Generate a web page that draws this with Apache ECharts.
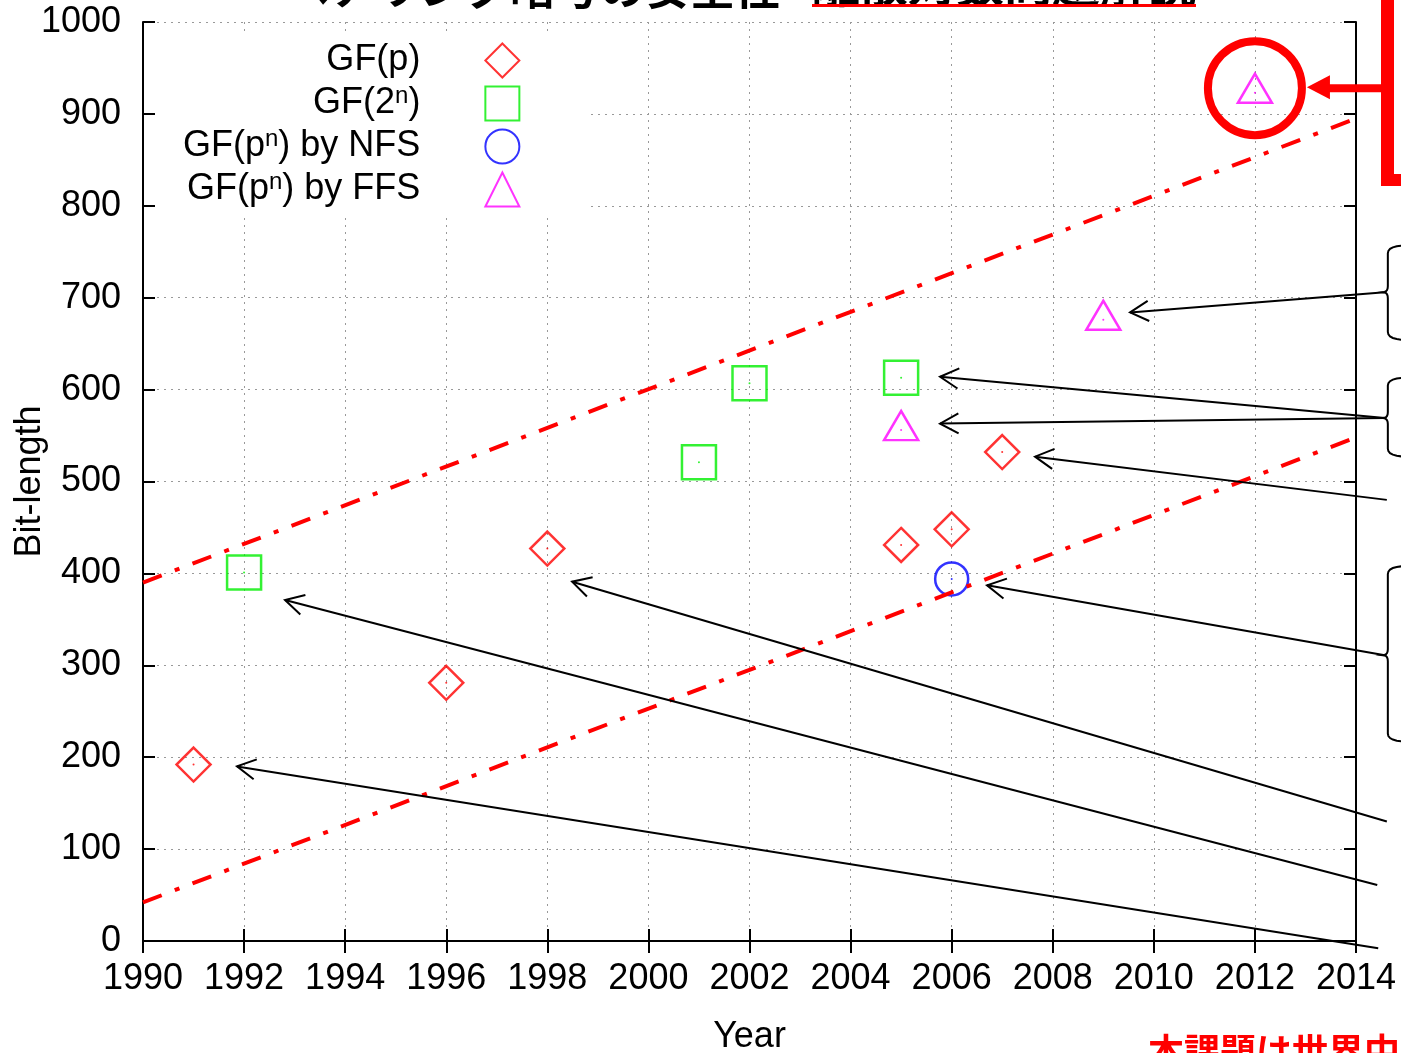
<!DOCTYPE html>
<html><head><meta charset="utf-8">
<script src="https://cdn.jsdelivr.net/npm/echarts@6/dist/echarts.min.js"></script>
<style>html,body{margin:0;padding:0;background:#fff;overflow:hidden}#c{width:1401px;height:1053px}</style>
</head><body><div id="c"></div>
<script>
// ---- data ----
const seriesNames = ['GF(p)', 'GF(2^n)', 'GF(p^n) by NFS', 'GF(p^n) by FFS'];
const gfpYears = [1991, 1996, 1998, 2005, 2006, 2007];
const gfpBits  = [192, 281, 427, 431, 448, 532];
const gf2Years = [1992, 2001, 2002, 2005];
const gf2Bits  = [401, 521, 607, 613];
const nfsYears = [2006];
const nfsBits  = [394];
const ffsYears = [2005, 2009, 2012];
const ffsBits  = [556, 676, 923];
const trendYears = [1990, 2014];
const upperTrend = [390, 895];
const lowerTrend = [42, 548];
// annotation arrows in data space: [year, bits]
const arrowFrom = [[2014.57,706],[2014.57,569],[2014.57,569],[2014.61,480],[2014.57,311],[2014.61,130],[2014.42,61],[2014.44,-8]];
const arrowTo   = [[2009.53,684],[2005.77,614],[2005.77,563],[2007.65,527],[2006.70,387],[1998.49,391],[1992.81,371],[1991.86,190]];
// braces: [top, bottom, tip] in bits
const braces = [[757,654,706],[613,527,569],[408,217,311]];
const highlight = [2012, 928];

const FONT = '"Liberation Sans", Arial, Helvetica, sans-serif';
const CJK = '"Noto Sans CJK JP", sans-serif';
const pts = (xs, ys) => xs.map((x, i) => [x, ys[i]]);
const hollow = c => ({ color: 'none', borderColor: c, borderWidth: 2.5 });
const colors = ['#ff0000', '#00ee00', '#0000ff', '#ff00ff'];

const chart = echarts.init(document.getElementById('c'));

const axisLineStyle = { color: '#000', width: 2 };
const tickStyle = { inside: true, length: 12, lineStyle: { color: '#000', width: 2 } };
const gridStyle = { show: true, lineStyle: { color: '#999', type: [2, 5], width: 1 } };
const lbl = { fontSize: 36, color: '#000', fontFamily: FONT };

function legendFmt(name) {
  const p = name.split('^n');
  return p.length > 1 ? '{a|' + p[0] + '}{s|n}{a|' + p[1] + '}' : '{a|' + name + '}';
}

const scatterBase = (name, data, symbol, size, color, offset) => ({
  name, type: 'scatter', data, symbol, symbolSize: size, symbolOffset: offset || [0, 0],
  itemStyle: hollow(color), z: 3, silent: true, emphasis: { disabled: true }
});
const dotSeries = (data, color) => ({
  name: 'dot', type: 'scatter', data, symbol: 'circle', symbolSize: 2,
  itemStyle: { color }, z: 3, silent: true
});
const trend = (ys) => ({
  name: 'trend', type: 'line', data: pts(trendYears, ys), symbol: 'none',
  lineStyle: { color: '#ff0000', width: 4, type: [20, 14, 5, 14] }, z: 5, silent: true
});

chart.setOption({
  animation: false,
  backgroundColor: '#fff',
  grid: { left: 143, top: 22, right: 45, bottom: 112, containLabel: false, outerBoundsMode: 'none' },
  xAxis: [
    { type: 'value', min: 1990, max: 2014, interval: 2, position: 'bottom',
      name: 'Year', nameLocation: 'middle', nameGap: 78, nameMoveOverlap: false, nameTextStyle: Object.assign({}, lbl),
      axisLine: { lineStyle: axisLineStyle }, axisTick: tickStyle,
      axisLabel: Object.assign({ margin: 20, formatter: v => String(v) }, lbl),
      splitLine: gridStyle },
    { type: 'value', min: 1990, max: 2014, interval: 2, position: 'top',
      axisLine: { lineStyle: axisLineStyle }, axisTick: tickStyle,
      axisLabel: { show: false }, splitLine: { show: false } }
  ],
  yAxis: [
    { type: 'value', min: 0, max: 1000, interval: 100, position: 'left',
      name: 'Bit-length', nameLocation: 'middle', nameGap: 95, nameMoveOverlap: false, nameTextStyle: Object.assign({}, lbl),
      axisLine: { lineStyle: axisLineStyle }, axisTick: tickStyle,
      axisLabel: Object.assign({ margin: 22, formatter: v => String(v) }, lbl),
      splitLine: gridStyle },
    { type: 'value', min: 0, max: 1000, interval: 100, position: 'right',
      axisLine: { lineStyle: axisLineStyle }, axisTick: tickStyle,
      axisLabel: { show: false }, splitLine: { show: false } }
  ],
  legend: {
    data: seriesNames, orient: 'vertical', left: 157, top: 33, align: 'right',
    itemWidth: 34, itemHeight: 34, itemGap: 4, padding: [8, 65, 6, 26],
    backgroundColor: '#fff', selectedMode: false, formatter: legendFmt,
    textStyle: {
      fontSize: 36, fontFamily: FONT, color: '#000', padding: [0, 60, 0, 0],
      rich: {
        a: { fontSize: 36, fontFamily: FONT, color: '#000', lineHeight: 38 },
        s: { fontSize: 24, fontFamily: FONT, color: '#000', lineHeight: 38, verticalAlign: 'top', padding: [0, 0, 14, 0] }
      }
    }
  },
  series: [
    scatterBase(seriesNames[0], pts(gfpYears, gfpBits), 'diamond', 34, colors[0]),
    scatterBase(seriesNames[1], pts(gf2Years, gf2Bits), 'rect', 34, colors[1]),
    scatterBase(seriesNames[2], pts(nfsYears, nfsBits), 'circle', 33, colors[2]),
    scatterBase(seriesNames[3], pts(ffsYears, ffsBits), 'triangle', [34, 29], colors[3], [0, -4.5]),
    dotSeries(pts(gfpYears, gfpBits), colors[0]),
    dotSeries(pts(gf2Years, gf2Bits), colors[1]),
    dotSeries(pts(nfsYears, nfsBits), colors[2]),
    dotSeries(pts(ffsYears, ffsBits), colors[3]),
    trend(upperTrend),
    trend(lowerTrend)
  ]
});

// ---- annotations ----
const px = d => chart.convertToPixel({ gridIndex: 0 }, d);
const g = [];
const black = { stroke: '#000', lineWidth: 2, fill: 'none' };
arrowFrom.forEach((f, i) => {
  const a = px(f), b = px(arrowTo[i]);
  g.push({ type: 'polyline', z: 100, shape: { points: [a, b] }, style: black });
  const ang = Math.atan2(b[1] - a[1], b[0] - a[0]);
  const L = 21, h = 0.5;
  const p1 = [b[0] - L * Math.cos(ang - h), b[1] - L * Math.sin(ang - h)];
  const p2 = [b[0] - L * Math.cos(ang + h), b[1] - L * Math.sin(ang + h)];
  g.push({ type: 'polyline', z: 100, shape: { points: [p1, b, p2] }, style: black });
});
function quad(p0, c, p1, n) {
  const out = [];
  for (let k = 0; k <= n; k++) {
    const t = k / n;
    out.push([(1-t)*(1-t)*p0[0] + 2*(1-t)*t*c[0] + t*t*p1[0], (1-t)*(1-t)*p0[1] + 2*(1-t)*t*c[1] + t*t*p1[1]]);
  }
  return out;
}
braces.forEach(br => {
  const xv = px([2014.63, 0])[0];
  const xt = xv - 5, xr = xv + 20;
  const top = px([2014, br[0]])[1], bot = px([2014, br[1]])[1], tip = px([2014, br[2]])[1];
  let P = [];
  P = P.concat(quad([xr, top], [xv, top], [xv, top + 8], 6));
  P = P.concat(quad([xv, tip - 6], [xv, tip], [xt, tip], 5));
  P = P.concat(quad([xt, tip], [xv, tip], [xv, tip + 6], 5));
  P = P.concat(quad([xv, bot - 8], [xv, bot], [xr, bot], 6));
  g.push({ type: 'polyline', z: 100, shape: { points: P }, style: black });
});
// red highlight
const hc = px(highlight);
g.push({ type: 'circle', z: 101, shape: { cx: hc[0], cy: hc[1], r: 47 }, style: { fill: 'none', stroke: '#ff0000', lineWidth: 8 } });
g.push({ type: 'rect', z: 101, shape: { x: hc[0] + 74, y: hc[1] - 4, width: 54, height: 8 }, style: { fill: '#ff0000' } });
g.push({ type: 'polygon', z: 101, shape: { points: [[hc[0] + 52, hc[1] - 1], [hc[0] + 75, hc[1] - 13], [hc[0] + 75, hc[1] + 11]] }, style: { fill: '#ff0000' } });
g.push({ type: 'rect', z: 101, shape: { x: 1381, y: -5, width: 13, height: 191 }, style: { fill: '#ff0000' } });
g.push({ type: 'rect', z: 101, shape: { x: 1381, y: 174, width: 25, height: 12 }, style: { fill: '#ff0000' } });
// cut-off texts at the top and bottom edges
g.push({ type: 'text', z: 101, x: 285, y: 10, style: { text: 'ペアリング暗号の安全性', fontSize: 45, fontFamily: CJK, fontWeight: 'bold', fill: '#000', verticalAlign: 'bottom', align: 'left' } });
g.push({ type: 'text', z: 101, x: 812, y: 8, style: { text: '離散対数問題解読', fontSize: 48, fontFamily: CJK, fontWeight: 'bold', fill: '#000', verticalAlign: 'bottom', align: 'left' } });
g.push({ type: 'rect', z: 102, shape: { x: 812, y: 4, width: 384, height: 3 }, style: { fill: '#ff0000' } });
g.push({ type: 'text', z: 101, x: 1148, y: 1033, style: { text: '本課題は世界中', fontSize: 36, fontFamily: CJK, fontWeight: 'bold', fill: '#ff0000', verticalAlign: 'top', align: 'left' } });
chart.setOption({ graphic: { elements: g } });
</script>
</body></html>
